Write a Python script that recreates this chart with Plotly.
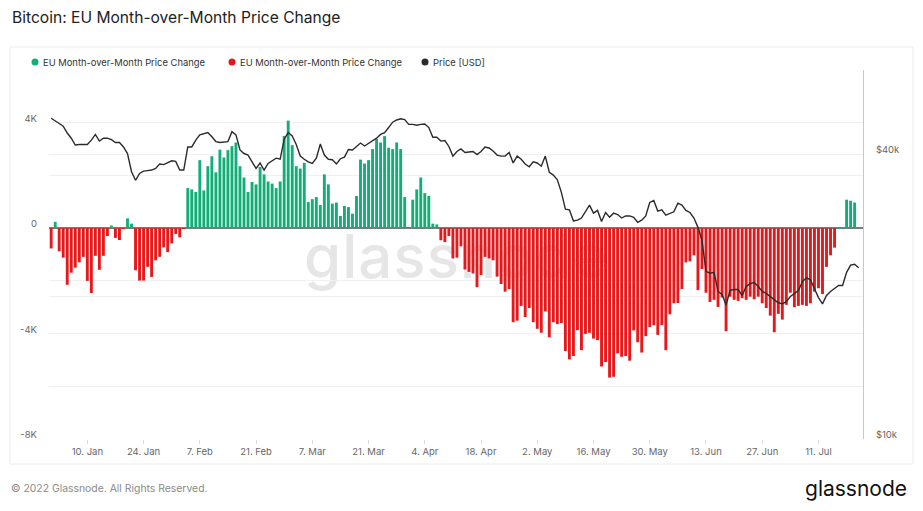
import base64
import pandas as pd
import plotly.graph_objects as go

# daily values, 1 Jan 2022 onwards
start_date = "2022-01-01"

# EU month-over-month price change, USD thousands (1 Jan .. 20 Jul)
mom_change_k = [
    -0.77, 0.24, -0.88, -1.12, -2.15, -1.69, -1.50, -1.30, -1.09, -2.00,
    -2.46, -1.05, -1.58, -1.05, -0.30, 0.10, -0.37, -0.45, -0.02, 0.37,
    0.17, -1.60, -1.99, -1.99, -1.47, -1.85, -1.22, -1.09, -0.73, -0.91,
    -0.58, -0.22, -0.35, -0.03, 1.52, 1.47, 1.37, 2.58, 1.43, 2.35,
    2.73, 2.12, 2.98, 2.68, 2.96, 3.11, 3.25, 2.35, 1.92, 1.37,
    1.75, 1.66, 2.32, 2.04, 1.77, 1.69, 1.52, 1.77, 3.50, 4.08,
    3.15, 2.35, 2.26, 2.48, 0.99, 1.10, 1.18, 0.88, 2.04, 1.66,
    0.93, 0.97, 0.46, 0.84, 0.80, 0.55, 1.22, 2.60, 2.45, 2.58,
    3.00, 3.38, 3.25, 3.49, 3.05, 3.00, 3.25, 3.00, 1.18, 0.00,
    1.08, 1.47, 1.92, 1.33, 1.22, 0.17, 0.14, -0.46, -0.53, -0.30,
    -1.15, -1.12, -0.69, -1.57, -1.66, -1.72, -2.24, -1.78, -1.09, -1.15,
    -1.22, -1.84, -2.12, -2.41, -2.31, -3.57, -3.51, -2.95, -3.37, -3.03,
    -3.57, -3.82, -3.97, -3.16, -4.14, -3.57, -3.64, -3.60, -4.66, -4.98,
    -4.85, -3.87, -4.63, -4.01, -3.97, -4.19, -4.25, -5.25, -5.08, -5.67,
    -5.64, -4.75, -4.88, -4.85, -5.03, -3.88, -4.33, -4.72, -4.10, -3.75,
    -3.68, -4.05, -3.68, -4.63, -3.27, -2.85, -2.84, -2.31, -1.30, -1.26,
    -1.03, -2.35, -1.55, -2.45, -2.80, -2.72, -2.99, -2.63, -3.91, -2.60,
    -2.72, -2.76, -2.66, -2.72, -2.60, -2.70, -2.60, -2.85, -3.03, -3.32,
    -3.95, -3.25, -3.47, -2.91, -2.45, -3.00, -2.95, -2.91, -2.95, -2.85,
    -2.41, -2.28, -2.50, -1.47, -1.03, -0.74, 0.03, 0.03, 1.08, 1.04,
    0.97,
]

# BTC price, USD thousands (1 Jan .. 21 Jul)
price_k = [
    47.6, 46.9, 46.4, 45.8, 44.3, 43.2, 41.8, 41.9, 41.9, 41.9,
    42.8, 44.0, 42.6, 43.2, 43.2, 42.9, 42.3, 42.3, 41.4, 40.1,
    36.7, 35.2, 36.4, 36.8, 36.9, 37.0, 37.3, 38.1, 38.0, 38.4,
    38.7, 38.6, 37.0, 37.0, 41.4, 41.4, 42.8, 43.9, 44.2, 44.4,
    43.5, 42.5, 42.3, 42.4, 42.5, 44.6, 43.9, 40.8, 40.1, 39.8,
    38.5, 37.3, 38.3, 37.0, 38.2, 38.7, 39.2, 39.0, 43.0, 44.4,
    43.7, 41.9, 39.6, 39.0, 38.5, 38.2, 39.2, 42.0, 39.8, 39.0,
    38.9, 38.1, 39.1, 39.4, 40.9, 40.8, 41.4, 42.2, 41.6, 42.1,
    42.7, 43.2, 44.0, 44.4, 45.5, 46.7, 47.2, 47.5, 47.3, 46.2,
    46.2, 46.0, 46.2, 46.3, 45.5, 43.4, 43.4, 42.6, 42.7, 41.5,
    39.6, 40.5, 41.0, 40.3, 40.4, 40.5, 39.9, 40.5, 41.4, 41.2,
    40.6, 39.8, 39.6, 39.6, 40.3, 38.3, 39.6, 39.0, 38.1, 37.6,
    38.5, 38.3, 37.7, 39.6, 36.6, 36.1, 35.3, 33.2, 30.6, 30.5,
    28.9, 29.0, 29.3, 30.2, 31.2, 30.0, 30.4, 28.8, 30.1, 29.4,
    30.0, 29.8, 29.3, 29.6, 29.6, 29.4, 28.7, 29.0, 29.6, 31.6,
    31.9, 30.3, 30.5, 29.7, 29.9, 30.2, 31.5, 31.2, 30.4, 30.1,
    29.3, 28.0, 26.3, 22.6, 22.4, 22.5, 20.5, 20.2, 19.2, 20.6,
    20.7, 20.7, 20.1, 21.0, 21.3, 21.4, 21.0, 20.5, 20.3, 20.0,
    19.7, 19.4, 19.3, 19.5, 20.0, 20.3, 20.6, 21.5, 21.9, 21.7,
    20.7, 19.9, 19.3, 20.1, 20.5, 20.8, 21.1, 21.1, 22.5, 23.3,
    23.4, 23.0,
]

left_ticks = [-8, -6, -4, -2, 0, 2, 4, 6]
left_labels = ["-8K", "", "-4K", "", "0", "", "4K", ""]
right_ticks = [10, 20, 40]
right_labels = ["$10k", "", "$40k"]

series_name = "EU Month-over-Month Price Change"
price_name = "Price [USD]"

GREEN = "#13ad78"
RED = "#e5191b"
LINE = "#2b2b2b"
FONT = "Inter"

price_dates = pd.date_range(start_date, periods=len(price_k), freq="D")
bar_dates = price_dates[:len(mom_change_k)]
pos = [v if v > 0 else None for v in mom_change_k]
neg = [v if v < 0 else None for v in mom_change_k]

fig = go.Figure()
fig.add_trace(go.Bar(x=bar_dates, y=pos, name=series_name, marker_color=GREEN,
                     marker_line_width=0, width=0.72 * 86400000, showlegend=False))
fig.add_trace(go.Bar(x=bar_dates, y=neg, name=series_name, marker_color=RED,
                     marker_line_width=0, width=0.72 * 86400000, showlegend=False))
fig.add_trace(go.Scatter(x=price_dates, y=price_k, name=price_name, yaxis="y2",
                         mode="lines", line=dict(color=LINE, width=1.4),
                         showlegend=False))

# plot area in pixels: x 49..863, y 70..439
W, H = 923, 511
L, R, T, B = 49, 863, 70, 439


def px_x(p):
    return (p - L) / (R - L)


def px_y(p):
    return (B - p) / (B - T)


# faint watermark behind the bars
svg = ('<svg xmlns="http://www.w3.org/2000/svg" width="340" height="80">'
       '<text x="0" y="56" font-family="Inter, sans-serif" font-size="60" '
       'font-weight="500" letter-spacing="1" fill="#e6e6e6">glassnode</text></svg>')
wm = "data:image/svg+xml;base64," + base64.b64encode(svg.encode()).decode()

shapes = [
    dict(type="rect", xref="paper", yref="paper",
         x0=px_x(10), x1=px_x(913), y0=px_y(464), y1=px_y(47),
         line=dict(color="#ececec", width=1), layer="below"),
]
annotations = [
    dict(text="Bitcoin: EU Month-over-Month Price Change", xref="paper", yref="paper",
         x=px_x(10), y=px_y(18), xanchor="left", yanchor="middle", showarrow=False,
         font=dict(family=FONT, size=15.6, color="#222")),
    dict(text="© 2022 Glassnode. All Rights Reserved.", xref="paper", yref="paper",
         x=px_x(9), y=px_y(488), xanchor="left", yanchor="middle", showarrow=False,
         font=dict(family=FONT, size=10.4, color="#8a8a8a")),
    dict(text="glassnode", xref="paper", yref="paper",
         x=px_x(909), y=px_y(488), xanchor="right", yanchor="middle", showarrow=False,
         font=dict(family=FONT, size=21, color="#111")),
]

# legend drawn by hand so the dots sit close to the text
legend_items = [(series_name, GREEN, 35), (series_name, RED, 232), (price_name, LINE, 425)]
for label, col, xpos in legend_items:
    shapes.append(dict(type="circle", xref="paper", yref="paper",
                       x0=px_x(xpos - 3.5), x1=px_x(xpos + 3.5),
                       y0=px_y(62 + 3.5), y1=px_y(62 - 3.5),
                       fillcolor=col, line=dict(width=0)))
    annotations.append(dict(text=label, xref="paper", yref="paper",
                            x=px_x(xpos + 6), y=px_y(62), xanchor="left",
                            yanchor="middle", showarrow=False,
                            font=dict(family=FONT, size=9.4, color="#333")))

tick_font = dict(family=FONT, size=9.5, color="#666")

fig.update_layout(
    width=W, height=H,
    margin=dict(l=L, r=W - R, t=T, b=H - B),
    paper_bgcolor="white",
    plot_bgcolor="rgba(0,0,0,0)",
    barmode="overlay",
    showlegend=False,
    shapes=shapes,
    annotations=annotations,
    images=[dict(source=wm, xref="paper", yref="paper",
                 x=px_x(304), y=px_y(222), sizex=340 / (R - L), sizey=80 / (B - T),
                 xanchor="left", yanchor="top", sizing="stretch", layer="below")],
    font=dict(family=FONT, size=10, color="#666"),
    xaxis=dict(
        range=["2021-12-31 11:00", "2022-07-22 02:00"],
        tick0="2022-01-10", dtick=14 * 86400000, tickformat="%-d. %b",
        showgrid=False, ticks="outside", ticklen=4, tickcolor="#dcdcdc",
        showline=False, zeroline=False, tickfont=tick_font,
    ),
    yaxis=dict(
        range=[-8, 6], tickvals=left_ticks, ticktext=left_labels,
        showgrid=True, gridcolor="#f0f0f0", gridwidth=1,
        zeroline=True, zerolinecolor="#7a7a7a", zerolinewidth=1.5,
        ticklabelstandoff=11, ticklabelshift=-4, tickfont=tick_font,
    ),
    yaxis2=dict(
        type="log", range=[1, 1.7796], overlaying="y", side="right",
        tickvals=right_ticks, ticktext=right_labels,
        showgrid=True, gridcolor="#f0f0f0", gridwidth=1,
        showline=True, linecolor="#c8c8c8", linewidth=1,
        zeroline=False, ticklabelstandoff=10, ticklabelshift=-4, tickfont=tick_font,
    ),
)

# the page's default body margin would push the chart 8px off; remove it
fig.write_html("out.html", config={"displayModeBar": False},
               post_script="document.body.style.margin='0';")
